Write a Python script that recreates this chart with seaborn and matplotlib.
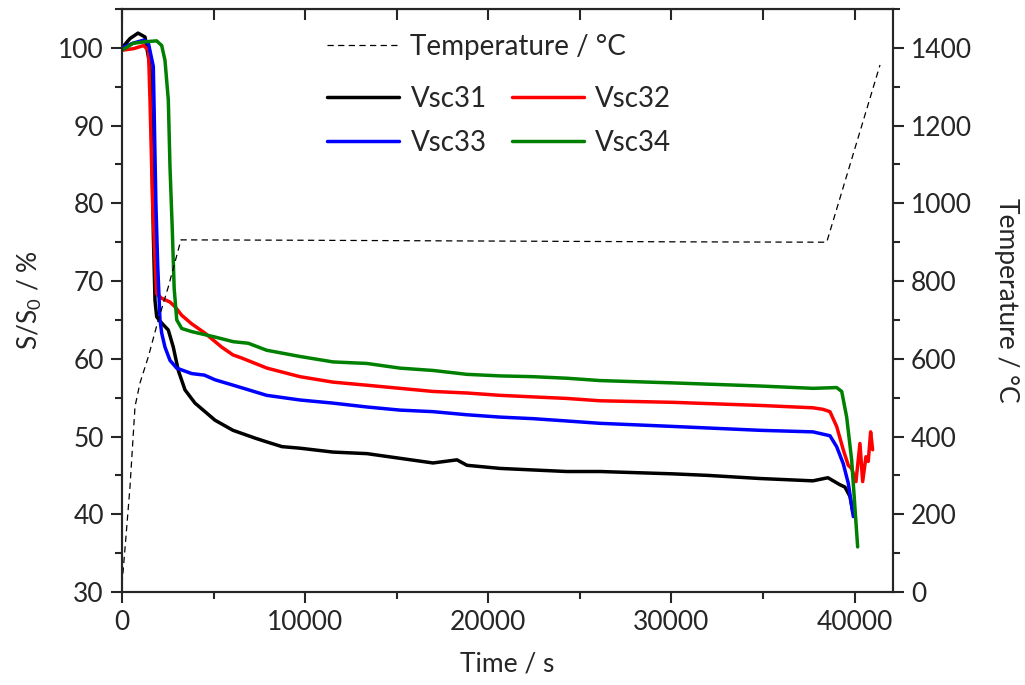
import numpy as np
import pandas as pd
import matplotlib
matplotlib.use("Agg")
import matplotlib.pyplot as plt
from matplotlib.ticker import MultipleLocator
from matplotlib.lines import Line2D
import seaborn as sns

# ---------------- data ----------------
t31 = [0, 437, 874, 1256, 1529, 1620, 1710, 1802, 1895, 2168, 2528, 2801, 3074, 3440, 3986,
       5078, 6060, 7262, 7917, 8736, 9719, 11520, 13377, 15179, 16980, 18290, 18837, 20639,
       22440, 24297, 26099, 30084, 32000, 34834, 37727, 38546, 39201, 39475, 39748, 39912]
s31 = [100.0, 101.2, 101.9, 101.4, 97.6, 89.0, 76.1, 67.5, 65.4, 64.6, 63.7, 61.5, 58.5, 56.0, 54.3,
       52.1, 50.8, 49.8, 49.3, 48.7, 48.5, 48.0, 47.8, 47.2, 46.6, 47.0, 46.3, 45.9,
       45.7, 45.5, 45.5, 45.2, 45.0, 44.6, 44.3, 44.7, 43.8, 43.5, 42.3, 40.2]

t32 = [0, 637, 1174, 1447, 1529, 1666, 1884, 2157, 2620, 2894, 3259, 3805, 4532, 5444, 6060,
       6537, 7917, 9719, 11520, 13377, 15179, 16980, 18837, 20639, 22440, 24297, 26099, 30084,
       34834, 37727, 38275, 38657, 39023, 39384, 39657, 39842, 40077, 40295, 40443, 40622,
       40748, 40879, 40988]
s32 = [99.7, 99.9, 100.3, 99.7, 93.3, 80.4, 68.4, 67.8, 67.3, 66.7, 65.6, 64.5, 63.3, 61.5, 60.5,
       60.1, 58.8, 57.7, 57.0, 56.6, 56.2, 55.8, 55.6, 55.3, 55.1, 54.9, 54.6, 54.4,
       54.0, 53.7, 53.5, 53.2, 51.3, 48.3, 46.3, 45.9, 44.2, 49.1, 44.2, 47.4,
       46.8, 50.6, 48.3]

t33 = [0, 600, 1200, 1450, 1710, 1850, 1950, 2075, 2168, 2347, 2620, 2985, 3805, 4500, 5078,
       6077, 7900, 9719, 11520, 13377, 15179, 16980, 18837, 20639, 22440, 24297, 26099, 30084,
       34834, 37727, 38657, 39023, 39384, 39657, 39933]
s33 = [100.0, 100.6, 101.0, 100.5, 97.6, 80.0, 72.0, 65.0, 63.3, 61.5, 59.8, 58.8, 58.1, 57.9, 57.3,
       56.6, 55.3, 54.7, 54.3, 53.8, 53.4, 53.2, 52.8, 52.5, 52.3, 52.0, 51.7, 51.3,
       50.8, 50.6, 50.1, 48.7, 46.5, 44.0, 39.7]

t34 = [0, 619, 1338, 1893, 2168, 2347, 2529, 2620, 2740, 2850, 2990, 3260, 3805, 5078, 6077,
       6897, 7900, 9719, 11520, 13377, 15179, 16980, 18837, 20639, 22440, 24297, 26099, 30084,
       34834, 37727, 39023, 39300, 39570, 39842, 40170]
s34 = [99.7, 100.6, 100.8, 100.9, 100.3, 98.4, 93.3, 84.7, 77.0, 69.0, 65.0, 63.9, 63.5, 62.8, 62.2,
       62.0, 61.1, 60.3, 59.6, 59.4, 58.8, 58.5, 58.0, 57.8, 57.7, 57.5, 57.2, 56.9,
       56.5, 56.2, 56.3, 55.8, 52.5, 47.0, 35.8]

t_temp = [0, 202, 437, 710, 983, 1436, 1982, 2528, 3220, 10000, 20000, 30000, 38480, 41390]
temp = [20, 134, 271, 477, 538, 605, 700, 785, 906, 905, 903, 901, 900, 1356]

series_names = ["Vsc31", "Vsc32", "Vsc33", "Vsc34"]
series_colors = ["#000000", "#FF0000", "#0000FF", "#008000"]
x_ticks = [0, 10000, 20000, 30000, 40000]

# ---------------- style ----------------
sns.set_style("ticks")
plt.rcParams["font.family"] = ["Lato", "DejaVu Sans"]
plt.rcParams["mathtext.fontset"] = "custom"
plt.rcParams["mathtext.rm"] = "Lato"
FS = 19
LFS = 20

fig = plt.figure(figsize=(10.25, 6.85), dpi=100)
ax = fig.add_axes([122 / 1025, 93 / 685, (893 - 122) / 1025, (592 - 9) / 685])
ax2 = ax.twinx()

df = pd.concat([
    pd.DataFrame({"t": t, "s": s, "name": n})
    for t, s, n in zip([t31, t32, t33, t34], [s31, s32, s33, s34], series_names)
])
for n, c in zip(series_names, series_colors):
    sns.lineplot(data=df[df["name"] == n], x="t", y="s", ax=ax, color=c, lw=2.5,
                 estimator=None, sort=False, legend=False)

dft = pd.DataFrame({"t": t_temp, "T": temp})
sns.lineplot(data=dft, x="t", y="T", ax=ax2, color="black", lw=0.9, estimator=None,
             sort=False, legend=False, dashes=False)
for l in ax2.get_lines():
    l.set_linestyle((0, (5, 3.5)))

ax.set_xlim(0, 42100)
ax.set_ylim(30, 105)
ax2.set_ylim(0, 1500)

ax.set_xticks(x_ticks)
ax.xaxis.set_minor_locator(MultipleLocator(5000))
ax.yaxis.set_major_locator(MultipleLocator(10))
ax.yaxis.set_minor_locator(MultipleLocator(5))
ax2.yaxis.set_major_locator(MultipleLocator(200))
ax2.yaxis.set_minor_locator(MultipleLocator(100))

for a in (ax, ax2):
    for sp in a.spines.values():
        sp.set_linewidth(1.5)
        sp.set_visible(True)
    a.tick_params(which="major", length=8, width=1.5, direction="out", labelsize=FS, pad=5)
    a.tick_params(which="minor", length=5, width=1.5, direction="out")

ax.tick_params(axis="x", top=False)
sec = ax.secondary_xaxis("top")
sec.set_xticks(np.arange(0, 42001, 5000))
sec.tick_params(direction="in", length=8, width=1.5, labeltop=False)
sec.set_xticklabels([])

ax.set_xlabel("Time / s", fontsize=FS, labelpad=12)
ax.set_ylabel(r"S/S$_\mathregular{0}$ / %", fontsize=FS, labelpad=10)
ax2.set_ylabel("Temperature / °C", fontsize=FS, rotation=270, labelpad=34)

# legends
h_temp = [Line2D([], [], color="black", lw=0.9, linestyle=(0, (5, 3.5)))]
leg1 = ax.legend(h_temp, ["Temperature / °C"], loc="center left", frameon=False,
                 fontsize=LFS, handlelength=2.6, handletextpad=0.4,
                 bbox_to_anchor=(316 / 1025, (685 - 47) / 685), bbox_transform=fig.transFigure,
                 borderaxespad=0)
ax.add_artist(leg1)
h_s = [Line2D([], [], color=c, lw=2.5) for c in series_colors]
order = [0, 2, 1, 3]
leg2 = ax.legend([h_s[i] for i in order], [series_names[i] for i in order], ncol=2,
                 loc="upper left", frameon=False, fontsize=LFS,
                 handlelength=2.6, handletextpad=0.4, columnspacing=0.9, labelspacing=0.64,
                 bbox_to_anchor=(316 / 1025, (685 - 75) / 685), bbox_transform=fig.transFigure,
                 borderaxespad=0)

fig.savefig("out.png", dpi=100)
